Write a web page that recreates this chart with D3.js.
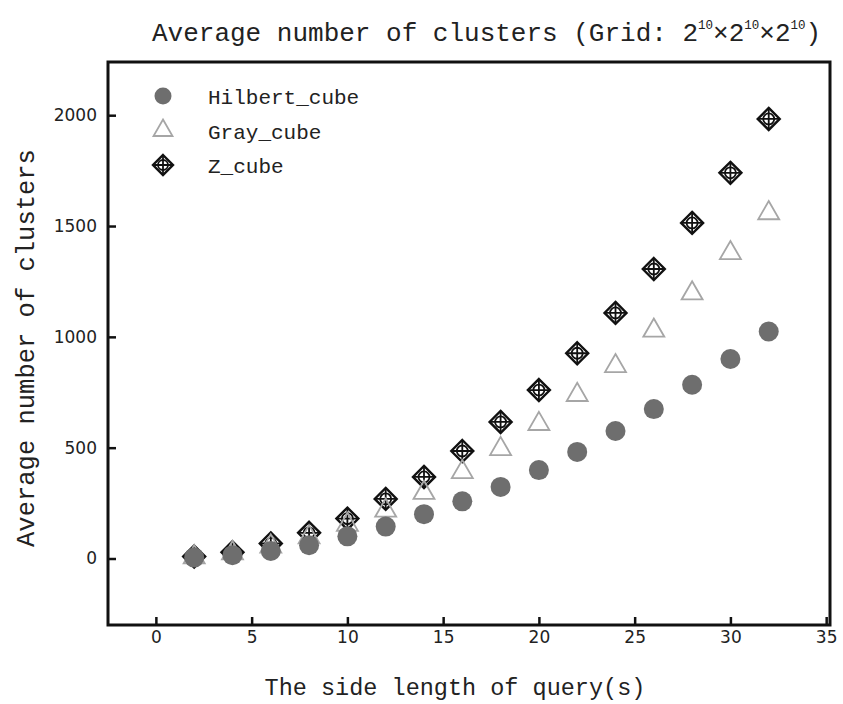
<!DOCTYPE html>
<html>
<head>
<meta charset="utf-8">
<script src="https://cdn.jsdelivr.net/npm/d3@7"></script>
<style>
  body { margin: 0; background: #fff; }
  svg { display: block; }
</style>
</head>
<body>
<svg id="chart"></svg>
<script>
// values
let sides = [2, 4, 6, 8, 10, 12, 14, 16, 18, 20, 22, 24, 26, 28, 30, 32]
let hilbert = [4, 15, 34, 60, 100, 144, 200, 258, 323, 399, 481, 575, 674, 784, 900, 1024]
let gray = [6, 24, 54, 96, 152, 216, 296, 390, 494, 607, 738, 868, 1028, 1196, 1378, 1558]
let zcube = [9, 28, 68, 116, 180, 269, 368, 485, 616, 760, 926, 1108, 1306, 1514, 1740, 1983]
let xTicks = [0, 5, 10, 15, 20, 25, 30, 35]
let yTicks = [0, 500, 1000, 1500, 2000]
let seriesNames = ["Hilbert_cube", "Gray_cube", "Z_cube"]

let W = 843, H = 704
let plotLeft = 108, plotRight = 830, plotTop = 62, plotBottom = 625
let mono = "'Liberation Mono', 'DejaVu Sans Mono', monospace"
let sans = "'DejaVu Sans', Verdana, sans-serif"

let svg = d3.select("#chart").attr("width", W).attr("height", H)

let x = d3.scaleLinear().domain([-2.5, 35.2]).range([plotLeft, plotRight])
let y = d3.scaleLinear().domain([-300, 2240]).range([plotBottom, plotTop])

// axes, ticks pointing inward
let xAxis = svg.append("g")
    .attr("transform", "translate(0," + plotBottom + ")")
    .call(d3.axisBottom(x).tickValues(xTicks).tickFormat(d3.format("d")).tickSize(-8).tickPadding(6))
let yAxis = svg.append("g")
    .attr("transform", "translate(" + plotLeft + ",0)")
    .call(d3.axisLeft(y).tickValues(yTicks).tickFormat(d3.format("d")).tickSize(-8).tickPadding(11))

for (let ax of [xAxis, yAxis]) {
    ax.select(".domain").remove()
    ax.selectAll("line").attr("stroke", "#111").attr("stroke-width", 2.5)
    ax.selectAll("text").attr("font-family", sans).attr("font-size", 17).attr("fill", "#222")
}

// frame
svg.append("rect")
    .attr("x", plotLeft).attr("y", plotTop)
    .attr("width", plotRight - plotLeft).attr("height", plotBottom - plotTop)
    .attr("fill", "none").attr("stroke", "#111").attr("stroke-width", 3)

// marker drawers
function drawZ(g, cx, cy, r) {
    let m = g.append("g").attr("transform", "translate(" + cx + "," + cy + ")")
        .attr("fill", "none").attr("stroke", "#111")
    m.append("path").attr("stroke-width", 2.4)
        .attr("d", "M0," + (-r) + "L" + r + ",0L0," + r + "L" + (-r) + ",0Z")
    m.append("circle").attr("r", r * 0.5).attr("stroke-width", 1.8)
    m.append("path").attr("stroke-width", 1.8)
        .attr("d", "M0," + (-r) + "V" + r + "M" + (-r) + ",0H" + r)
}
function drawTri(g, cx, cy, s) {
    let h = s * Math.sqrt(3) / 2
    g.append("path")
        .attr("transform", "translate(" + cx + "," + cy + ")")
        .attr("d", "M0," + (-h * 2 / 3) + "L" + (s / 2) + "," + (h / 3) + "L" + (-s / 2) + "," + (h / 3) + "Z")
        .attr("fill", "none").attr("stroke", "#a6a6a6").attr("stroke-width", 1.8)
}
function drawDot(g, cx, cy, r) {
    g.append("circle").attr("cx", cx).attr("cy", cy).attr("r", r)
        .attr("fill", "#6e6e6e")
}

let marks = svg.append("g")
sides.forEach((s, i) => drawZ(marks, x(s), y(zcube[i]), 11))
sides.forEach((s, i) => drawTri(marks, x(s), y(gray[i]), 21))
sides.forEach((s, i) => drawDot(marks, x(s), y(hilbert[i]), 10))

// legend
let legend = svg.append("g")
let drawers = [(g, a, b) => drawDot(g, a, b, 8.5), (g, a, b) => drawTri(g, a, b, 19), (g, a, b) => drawZ(g, a, b, 10)]
seriesNames.forEach((name, i) => {
    let ly = 96 + i * 34.5
    drawers[i](legend, 163, ly)
    legend.append("text").attr("x", 208).attr("y", ly + 8)
        .attr("font-family", mono).attr("font-size", 21).attr("fill", "#222")
        .text(name)
})

// title
let title = svg.append("text").attr("x", 152).attr("y", 41)
    .attr("font-family", mono).attr("font-size", 26).attr("fill", "#222")
title.append("tspan").text("Average number of clusters (Grid: 2")
title.append("tspan").attr("font-size", 12.5).attr("dy", -12).text("10")
title.append("tspan").attr("dy", 12).text("\u00d72")
title.append("tspan").attr("font-size", 12.5).attr("dy", -12).text("10")
title.append("tspan").attr("dy", 12).text("\u00d72")
title.append("tspan").attr("font-size", 12.5).attr("dy", -12).text("10")
title.append("tspan").attr("dy", 12).text(")")

// axis titles
svg.append("text")
    .attr("transform", "translate(34," + 348 + ") rotate(-90)")
    .attr("text-anchor", "middle")
    .attr("font-family", mono).attr("font-size", 25.5).attr("fill", "#222")
    .text("Average number of clusters")
svg.append("text")
    .attr("x", 455).attr("y", 695)
    .attr("text-anchor", "middle")
    .attr("font-family", mono).attr("font-size", 23.5).attr("fill", "#222")
    .text("The side length of query(s)")
</script>
</body>
</html>
